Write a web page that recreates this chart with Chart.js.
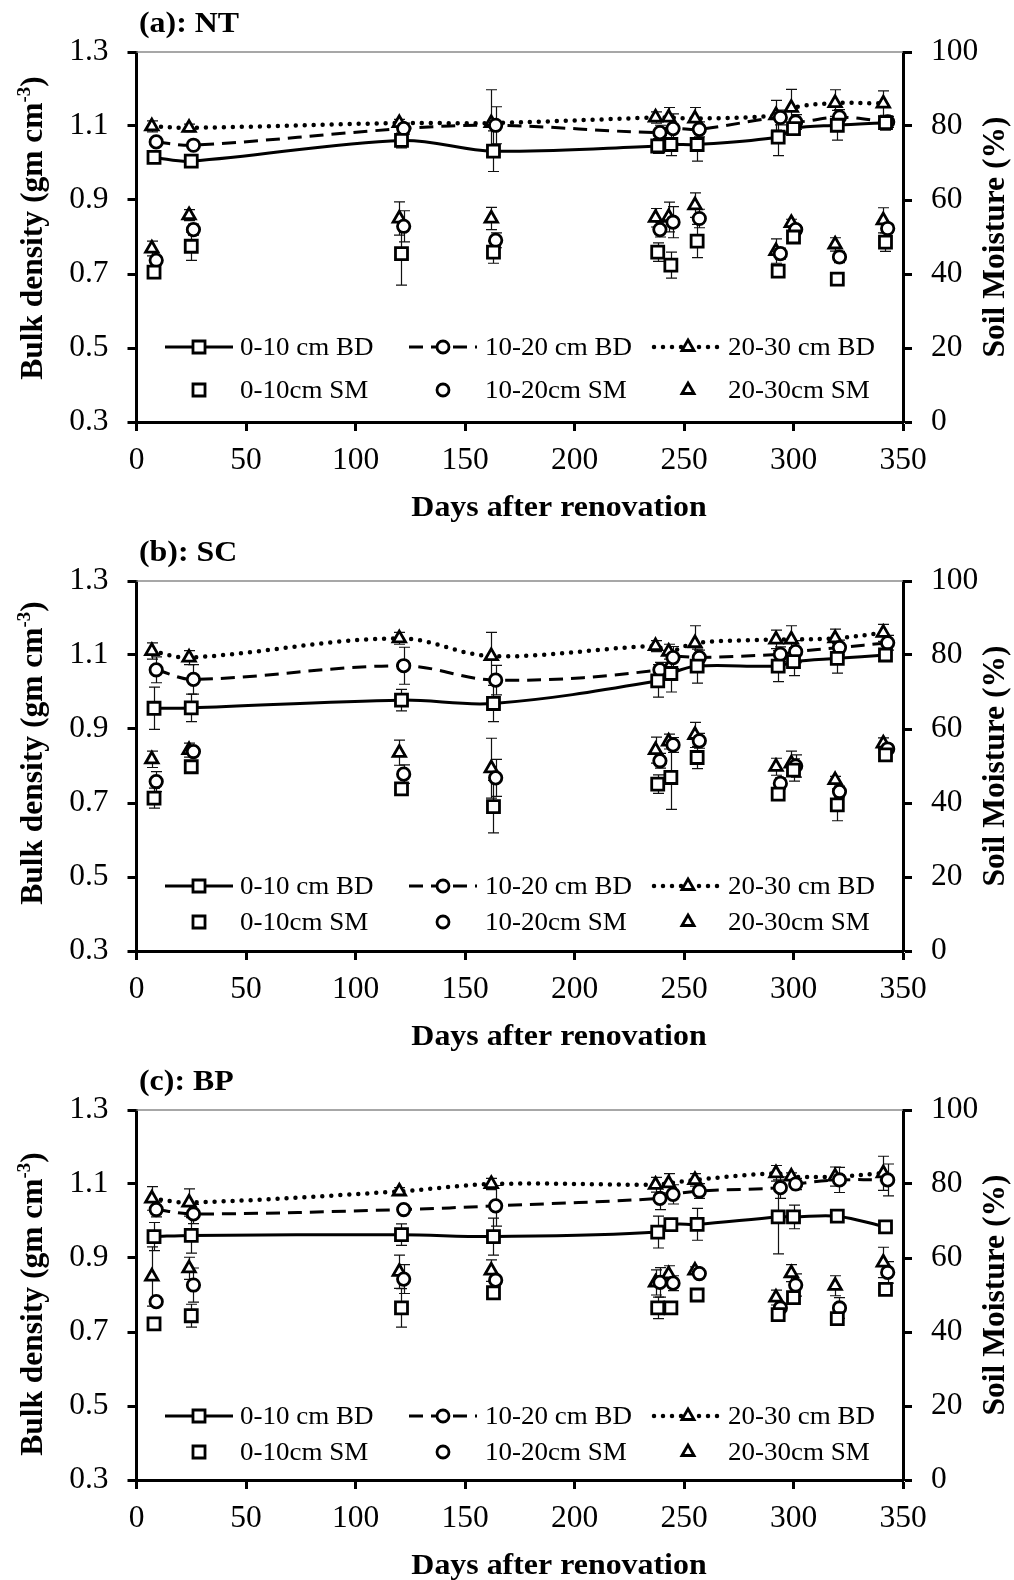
<!DOCTYPE html>
<html>
<head>
<meta charset="utf-8">
<script src="https://cdn.jsdelivr.net/npm/chart.js@4.4.1/dist/chart.umd.min.js"></script>
<style>
  body { margin: 0; background: #fff; }
  #wrap { position: relative; width: 1014px; height: 1580px; overflow: hidden; background: #fff; }
  #wrap canvas { position: absolute; left: 0; }
</style>
</head>
<body>
<div id="wrap">
  <canvas id="panelNT" width="1014" height="530" style="top:0px"></canvas>
  <canvas id="panelSC" width="1014" height="530" style="top:529px"></canvas>
  <canvas id="panelBP" width="1014" height="530" style="top:1058px"></canvas>
</div>
<script>
const FONT = "'Liberation Serif', 'Times New Roman', serif";

// sampling days; the three depths are plotted slightly staggered
const days0_10  = [8, 25, 121, 163, 238, 244, 256, 293, 300, 320, 342];
const days10_20 = [9, 26, 122, 164, 239, 245, 257, 294, 301, 321, 343];
const days20_30 = [7, 24, 120, 162, 237, 243, 255, 292, 299, 319, 341];

const depthLabels = ['0-10', '10-20', '20-30'];
const xTicks = [0, 50, 100, 150, 200, 250, 300, 350];
const bdTicks = [0.3, 0.5, 0.7, 0.9, 1.1, 1.3];
const smTicks = [0, 20, 40, 60, 80, 100];

// (a) NT - bulk density (g cm-3) and soil moisture (%)
const ntBD0_10  = [1.015, 1.005, 1.061, 1.032, 1.046, 1.050, 1.050, 1.070, 1.093, 1.102, 1.109];
const ntBD10_20 = [1.057, 1.048, 1.093, 1.102, 1.082, 1.093, 1.091, 1.123, 1.111, 1.124, 1.111];
const ntBD20_30 = [1.099, 1.095, 1.108, 1.108, 1.123, 1.123, 1.120, 1.129, 1.149, 1.162, 1.161];
const ntSM0_10  = [40.5, 47.5, 45.5, 45.9, 45.9, 42.4, 48.9, 40.8, 50.0, 38.6, 48.6];
const ntSM10_20 = [43.7, 52.0, 52.9, 49.1, 52.0, 54.0, 55.0, 45.5, 52.0, 44.6, 52.3];
const ntSM20_30 = [46.9, 55.9, 55.0, 55.0, 55.2, 55.4, 58.6, 46.2, 53.8, 48.0, 54.5];
const ntBDerr0_10  = [0.010, 0.015, 0.020, 0.055, 0.020, 0.030, 0.045, 0.050, 0.015, 0.040, 0.020];
const ntBDerr10_20 = [0.010, 0.010, 0.015, 0.050, 0.020, 0.040, 0.020, 0.020, 0.020, 0.020, 0.015];
const ntBDerr20_30 = [0.015, 0.010, 0.010, 0.090, 0.015, 0.027, 0.030, 0.040, 0.050, 0.036, 0.034];
const ntSMerr0_10  = [1.0, 3.8, 8.5, 3.0, 2.5, 3.5, 4.5, 1.0, 1.5, 1.5, 2.5];
const ntSMerr10_20 = [1.0, 1.5, 4.2, 2.0, 2.0, 4.2, 2.5, 1.5, 1.0, 1.5, 1.0];
const ntSMerr20_30 = [2.0, 1.5, 4.5, 3.0, 2.5, 4.0, 3.3, 3.3, 1.0, 1.8, 3.4];

// (b) SC
const scBD0_10  = [0.956, 0.957, 0.978, 0.969, 1.030, 1.050, 1.070, 1.070, 1.082, 1.091, 1.100];
const scBD10_20 = [1.060, 1.034, 1.071, 1.032, 1.060, 1.093, 1.093, 1.102, 1.109, 1.120, 1.133];
const scBD20_30 = [1.111, 1.093, 1.145, 1.097, 1.124, 1.109, 1.132, 1.142, 1.142, 1.145, 1.160];
const scSM0_10  = [41.3, 49.8, 43.8, 39.0, 45.1, 46.9, 52.3, 42.4, 48.9, 39.5, 53.0];
const scSM10_20 = [45.8, 53.9, 47.8, 46.8, 51.4, 55.7, 56.8, 45.3, 50.0, 43.1, 54.6];
const scSM20_30 = [51.8, 54.3, 53.6, 49.4, 54.3, 56.6, 58.4, 49.8, 50.7, 46.2, 56.1];
const scBDerr0_10  = [0.057, 0.037, 0.029, 0.049, 0.044, 0.050, 0.046, 0.042, 0.038, 0.040, 0.010];
const scBDerr10_20 = [0.035, 0.040, 0.050, 0.040, 0.020, 0.030, 0.020, 0.020, 0.030, 0.020, 0.020];
const scBDerr20_30 = [0.022, 0.019, 0.016, 0.064, 0.015, 0.020, 0.047, 0.025, 0.037, 0.025, 0.023];
const scSMerr0_10  = [2.7, 1.0, 1.0, 7.1, 2.5, 8.6, 3.0, 1.5, 3.0, 4.3, 1.0];
const scSMerr10_20 = [2.7, 1.0, 2.5, 5.0, 2.0, 2.0, 2.0, 1.5, 3.0, 1.5, 1.0];
const scSMerr20_30 = [2.2, 1.9, 3.4, 8.1, 3.5, 2.0, 3.4, 2.3, 3.3, 1.0, 1.5];

// (c) BP
const bpBD0_10  = [0.958, 0.961, 0.963, 0.958, 0.970, 0.990, 0.991, 1.011, 1.011, 1.013, 0.984];
const bpBD10_20 = [1.031, 1.019, 1.031, 1.041, 1.061, 1.072, 1.081, 1.090, 1.100, 1.111, 1.111];
const bpBD20_30 = [1.061, 1.050, 1.080, 1.100, 1.098, 1.102, 1.111, 1.129, 1.120, 1.120, 1.129];
const bpSM0_10  = [42.2, 44.4, 46.5, 50.6, 46.5, 46.5, 50.0, 44.7, 49.3, 43.6, 51.5];
const bpSM10_20 = [48.2, 52.7, 54.3, 54.0, 53.4, 53.2, 55.8, 46.5, 52.7, 46.5, 56.1];
const bpSM20_30 = [55.0, 57.2, 56.3, 56.6, 53.4, 55.6, 56.6, 49.3, 55.9, 52.5, 58.8];
const bpBDerr0_10  = [0.038, 0.048, 0.029, 0.050, 0.043, 0.010, 0.043, 0.100, 0.032, 0.005, 0.010];
const bpBDerr10_20 = [0.020, 0.026, 0.010, 0.055, 0.030, 0.026, 0.020, 0.029, 0.015, 0.034, 0.043];
const bpBDerr20_30 = [0.032, 0.037, 0.010, 0.015, 0.020, 0.026, 0.017, 0.021, 0.010, 0.026, 0.046];
const bpSMerr0_10  = [0.5, 3.1, 5.2, 1.0, 2.9, 1.0, 1.0, 1.0, 1.0, 1.0, 1.0];
const bpSMerr10_20 = [1.0, 4.6, 3.9, 1.0, 4.0, 2.0, 1.0, 1.0, 3.0, 2.8, 2.9];
const bpSMerr20_30 = [8.0, 3.0, 4.5, 2.9, 3.4, 2.3, 1.0, 2.0, 2.3, 2.7, 4.1];

// marker + line look for each depth
const depthStyles = [
  { pointStyle: 'rect',     radius: 8.5, legendRadius: 8.5, dash: [],       width: 3,   cap: 'butt' },
  { pointStyle: 'circle',   radius: 6.2, legendRadius: 6,   dash: [14, 8],  width: 3,   cap: 'butt' },
  { pointStyle: 'triangle', radius: 7.2, legendRadius: 7,   dash: [0, 9],   width: 4.5, cap: 'round' }
];

Chart.defaults.font.family = FONT;
Chart.defaults.color = '#000';

// vertical error bars with caps, drawn under the markers
const errorBarPlugin = {
  id: 'errorBars',
  beforeDatasetsDraw(chart) {
    const ctx = chart.ctx;
    ctx.save();
    ctx.strokeStyle = '#111';
    ctx.lineWidth = 1.2;
    chart.data.datasets.forEach((ds, i) => {
      const scale = chart.scales[ds.yAxisID];
      chart.getDatasetMeta(i).data.forEach((pt, j) => {
        const v = ds.data[j].y, e = ds.errorBars[j];
        const top = scale.getPixelForValue(v + e);
        const bot = scale.getPixelForValue(v - e);
        const x = Math.round(pt.x) + 0.5;
        ctx.beginPath();
        ctx.moveTo(x, top); ctx.lineTo(x, bot);
        ctx.moveTo(x - 5.5, top); ctx.lineTo(x + 5.5, top);
        ctx.moveTo(x - 5.5, bot); ctx.lineTo(x + 5.5, bot);
        ctx.stroke();
      });
    });
    ctx.restore();
  }
};

function drawRotated(ctx, runs, baseX, centerY) {
  let total = 0;
  runs.forEach(r => {
    ctx.font = `bold ${r.size}px ${FONT}`;
    r.w = ctx.measureText(r.text).width;
    total += r.w;
  });
  ctx.save();
  ctx.translate(baseX, centerY + total / 2);
  ctx.rotate(-Math.PI / 2);
  ctx.textAlign = 'left';
  ctx.textBaseline = 'alphabetic';
  let x = 0;
  runs.forEach(r => {
    ctx.font = `bold ${r.size}px ${FONT}`;
    ctx.fillText(r.text, x, -(r.rise || 0));
    x += r.w;
  });
  ctx.restore();
}

// horizontal text, slightly widened like the rest of the figure's lettering
function drawWide(ctx, text, x, y, align, stretch) {
  ctx.save();
  ctx.translate(x, y);
  ctx.scale(stretch, 1);
  ctx.textAlign = align;
  ctx.fillText(text, 0, 0);
  ctx.restore();
}

// top edge, panel label, axis titles and the in-plot legend
const framePlugin = {
  id: 'frame',
  beforeDatasetsDraw(chart) {
    const { ctx, chartArea: ca } = chart;
    ctx.save();
    ctx.strokeStyle = '#8a8a8a';
    ctx.lineWidth = 1.5;
    ctx.beginPath();
    ctx.moveTo(ca.left, ca.top);
    ctx.lineTo(ca.right, ca.top);
    ctx.stroke();
    ctx.restore();
  },
  afterDraw(chart, args, opts) {
    const { ctx, chartArea: ca } = chart;
    const midY = (ca.top + ca.bottom) / 2;
    ctx.save();
    ctx.fillStyle = '#000';

    ctx.font = `bold 29px ${FONT}`;
    ctx.textBaseline = 'alphabetic';
    drawWide(ctx, opts.label, 139, ca.top - 20, 'left', 1.1);
    drawWide(ctx, 'Days after renovation', 559, ca.bottom + 94, 'center', 1.1);

    drawRotated(ctx, [
      { text: 'Bulk density (gm cm', size: 31.5 },
      { text: '-3', size: 19, rise: 12 },
      { text: ')', size: 31.5 }
    ], 42, midY + opts.leftTitleShift);
    drawRotated(ctx, [{ text: 'Soil Moisture (%)', size: 31.5 }], 1004, midY);

    // legend: line samples on the first row, bare markers on the second
    const markerX = [199, 443, 688];
    const textX = [240, 485, 728];
    ctx.font = `25px ${FONT}`;
    ctx.textBaseline = 'middle';
    chart.data.datasets.forEach((ds, i) => {
      const row = i < 3 ? 0 : 1;
      const col = i % 3;
      const st = depthStyles[col];
      const y = ca.top + opts.legendRows[row];
      const cx = markerX[col];
      if (row === 0) {
        ctx.save();
        ctx.strokeStyle = '#000';
        ctx.lineWidth = st.width;
        ctx.lineCap = st.cap;
        ctx.setLineDash(st.dash);
        ctx.beginPath();
        ctx.moveTo(cx - 34, y);
        ctx.lineTo(cx + 34, y);
        ctx.stroke();
        ctx.restore();
      }
      ctx.save();
      ctx.setLineDash([]);
      ctx.fillStyle = '#fff';
      ctx.strokeStyle = '#000';
      ctx.lineWidth = 2.8;
      Chart.helpers.drawPoint(ctx, {
        pointStyle: st.pointStyle, radius: st.legendRadius, rotation: 0, borderWidth: 2.8
      }, cx, y);
      ctx.restore();
      ctx.fillStyle = '#000';
      drawWide(ctx, ds.label, textX[col], y + 1, 'left', 1.08);
    });
    ctx.restore();
  }
};

function buildPanel(canvasId, cfg) {
  const dayLists = [days0_10, days10_20, days20_30];
  const datasets = [];
  depthStyles.forEach((st, k) => {
    datasets.push({
      label: depthLabels[k] + ' cm BD',
      data: dayLists[k].map((d, i) => ({ x: d, y: cfg.bd[k][i] })),
      errorBars: cfg.bdErr[k],
      yAxisID: 'yBD',
      showLine: true,
      borderColor: '#000',
      borderWidth: st.width,
      borderDash: st.dash,
      borderCapStyle: st.cap,
      tension: 0.35,
      pointStyle: st.pointStyle,
      pointRadius: st.radius,
      pointBorderWidth: 2.8,
      pointBorderColor: '#000',
      pointBackgroundColor: '#fff'
    });
  });
  depthStyles.forEach((st, k) => {
    datasets.push({
      label: depthLabels[k] + 'cm SM',
      data: dayLists[k].map((d, i) => ({ x: d, y: cfg.sm[k][i] })),
      errorBars: cfg.smErr[k],
      yAxisID: 'ySM',
      showLine: false,
      pointStyle: st.pointStyle,
      pointRadius: st.radius,
      pointBorderWidth: 2.8,
      pointBorderColor: '#000',
      pointBackgroundColor: '#fff'
    });
  });

  const tickFont = { family: FONT, size: 31.5 };
  const gridOpts = { drawOnChartArea: false, drawTicks: true, tickLength: 9, tickWidth: 3, tickColor: '#000' };
  const borderOpts = { display: true, color: '#000', width: 3 };

  new Chart(document.getElementById(canvasId), {
    type: 'line',
    data: { datasets },
    options: {
      responsive: false,
      animation: false,
      events: [],
      layout: { padding: { top: 52, left: 0, right: 0, bottom: 0 } },
      plugins: {
        legend: { display: false },
        tooltip: { enabled: false },
        frame: cfg.frame
      },
      scales: {
        x: {
          type: 'linear',
          min: xTicks[0], max: xTicks[xTicks.length - 1],
          afterBuildTicks: s => { s.ticks = xTicks.map(v => ({ value: v })); },
          ticks: { font: tickFont, color: '#000', padding: 11, maxRotation: 0, autoSkip: false },
          grid: gridOpts,
          border: borderOpts,
          afterFit: s => { s.height = 108; }
        },
        yBD: {
          type: 'linear',
          position: 'left',
          min: bdTicks[0], max: bdTicks[bdTicks.length - 1],
          afterBuildTicks: s => { s.ticks = bdTicks.map(v => ({ value: v })); },
          ticks: { font: tickFont, color: '#000', padding: 19, callback: v => v.toFixed(1) },
          grid: gridOpts,
          border: borderOpts,
          afterFit: s => { s.width = 136.5; }
        },
        ySM: {
          type: 'linear',
          position: 'right',
          min: smTicks[0], max: smTicks[smTicks.length - 1],
          afterBuildTicks: s => { s.ticks = smTicks.map(v => ({ value: v })); },
          ticks: { font: tickFont, color: '#000', padding: 19 },
          grid: gridOpts,
          border: borderOpts,
          afterFit: s => { s.width = 111; }
        }
      }
    },
    plugins: [errorBarPlugin, framePlugin]
  });
}

buildPanel('panelNT', {
  bd: [ntBD0_10, ntBD10_20, ntBD20_30],
  bdErr: [ntBDerr0_10, ntBDerr10_20, ntBDerr20_30],
  sm: [ntSM0_10, ntSM10_20, ntSM20_30],
  smErr: [ntSMerr0_10, ntSMerr10_20, ntSMerr20_30],
  frame: { label: '(a): NT', legendRows: [295, 338], leftTitleShift: -9 }
});
buildPanel('panelSC', {
  bd: [scBD0_10, scBD10_20, scBD20_30],
  bdErr: [scBDerr0_10, scBDerr10_20, scBDerr20_30],
  sm: [scSM0_10, scSM10_20, scSM20_30],
  smErr: [scSMerr0_10, scSMerr10_20, scSMerr20_30],
  frame: { label: '(b): SC', legendRows: [305, 341], leftTitleShift: -13 }
});
buildPanel('panelBP', {
  bd: [bpBD0_10, bpBD10_20, bpBD20_30],
  bdErr: [bpBDerr0_10, bpBDerr10_20, bpBDerr20_30],
  sm: [bpSM0_10, bpSM10_20, bpSM20_30],
  smErr: [bpSMerr0_10, bpSMerr10_20, bpSMerr20_30],
  frame: { label: '(c): BP', legendRows: [306, 342], leftTitleShift: 9 }
});
</script>
</body>
</html>
